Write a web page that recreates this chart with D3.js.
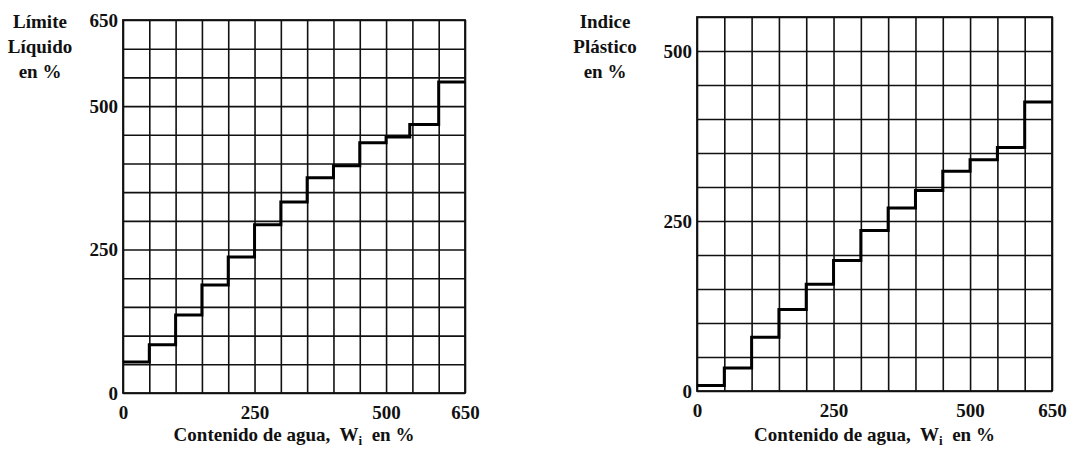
<!DOCTYPE html>
<html>
<head>
<meta charset="utf-8">
<script src="https://cdn.jsdelivr.net/npm/d3@7"></script>
<style>
  html, body { margin: 0; padding: 0; background: #fff; }
  svg { display: block; }
  text { font-family: "Liberation Serif", "Times New Roman", serif; font-weight: bold; fill: #111; white-space: pre; }
  .grid line, .grid path { stroke: #111; stroke-width: 1.6; }
  .frame { fill: none; stroke: #111; stroke-width: 1.8; }
  .step { fill: none; stroke: #000; stroke-width: 3; }
</style>
</head>
<body>
<svg width="1070" height="451"></svg>
<script>
// water content where each step starts (last one closes the curve)
const waterLeft = [0, 50, 100, 150, 200, 250, 300, 350, 400, 450, 500, 545, 600, 650]
const liquidLimit = [54, 84, 136, 188, 237, 293, 333, 375, 396, 436, 446, 468, 542, 542]

const waterRight = [0, 50, 100, 150, 200, 250, 300, 350, 400, 450, 500, 550, 600, 650]
const plasticIndex = [8, 34, 79, 120, 157, 192, 236, 269, 295, 323, 340, 358, 425, 425]

const xTicks = [0, 250, 500, 650]
const yTicksLeft = [0, 250, 500, 650]
const yTicksRight = [0, 250, 500]

const titleLeft = ['Límite', 'Líquido', 'en %']
const titleRight = ['Indice', 'Plástico', 'en %']

let svg = d3.select('svg')

const drawChart = (opt) => {
	let x = d3.scaleLinear().domain([0, 650]).range(opt.xr)
	let y = d3.scaleLinear().domain([0, opt.ymax]).range(opt.yr)
	let w = opt.xr[1] - opt.xr[0], h = opt.yr[0] - opt.yr[1]

	let g = svg.append('g')

	// grid every 50 %
	g.append('g').attr('class', 'grid')
	.attr('transform', `translate(0, ${opt.yr[0]})`)
	.call(d3.axisBottom(x).tickValues(d3.range(0, 651, 50)).tickSize(-h).tickFormat(''))
	.call(s => s.select('.domain').remove())

	g.append('g').attr('class', 'grid')
	.attr('transform', `translate(${opt.xr[0]}, 0)`)
	.call(d3.axisLeft(y).tickValues(d3.range(0, opt.ymax + 1, 50)).tickSize(-w).tickFormat(''))
	.call(s => s.select('.domain').remove())

	g.append('rect').attr('class', 'frame')
	.attr('x', opt.xr[0]).attr('y', opt.yr[1])
	.attr('width', w).attr('height', h)

	// tick labels
	let ax = g.append('g')
	.attr('transform', `translate(0, ${opt.yr[0] + 12})`)
	.call(d3.axisBottom(x).tickValues(xTicks).tickSize(0).tickPadding(0).tickFormat(d3.format('d')))
	ax.select('.domain').remove()
	ax.selectAll('text').attr('font-size', 19).attr('dy', '0.71em')

	let ay = g.append('g')
	.attr('transform', `translate(${opt.xr[0] - 5}, 0)`)
	.call(d3.axisLeft(y).tickValues(opt.yTicks).tickSize(0).tickPadding(0).tickFormat(d3.format('d')))
	ay.select('.domain').remove()
	ay.selectAll('text').attr('font-size', 19)

	// step curve
	let line = d3.line()
	.x((d, i) => x(opt.xs[i]))
	.y(d => y(d))
	.curve(d3.curveStepAfter)

	g.append('path').attr('class', 'step')
	.attr('d', line(opt.ys))

	// y title, three centred lines
	g.append('g').selectAll('text')
	.data(opt.title).enter()
	.append('text')
	.attr('x', opt.titleX)
	.attr('y', (d, i) => 28 + i * 25)
	.attr('text-anchor', 'middle')
	.attr('font-size', 19)
	.text(d => d)

	// x title
	let t = g.append('text')
	.attr('x', (opt.xr[0] + opt.xr[1]) / 2)
	.attr('y', 441)
	.attr('text-anchor', 'middle')
	.attr('font-size', 19)
	t.append('tspan').text('Contenido de agua,  W')
	t.append('tspan').attr('font-size', 13).attr('dy', 4).text('i')
	t.append('tspan').attr('dy', -4).text('  en %')
}

drawChart({
	xr: [123, 465], yr: [393, 20], ymax: 650,
	xs: waterLeft, ys: liquidLimit, yTicks: yTicksLeft,
	title: titleLeft, titleX: 40
})

drawChart({
	xr: [697, 1052], yr: [391, 17], ymax: 550,
	xs: waterRight, ys: plasticIndex, yTicks: yTicksRight,
	title: titleRight, titleX: 605
})
</script>
</body>
</html>
